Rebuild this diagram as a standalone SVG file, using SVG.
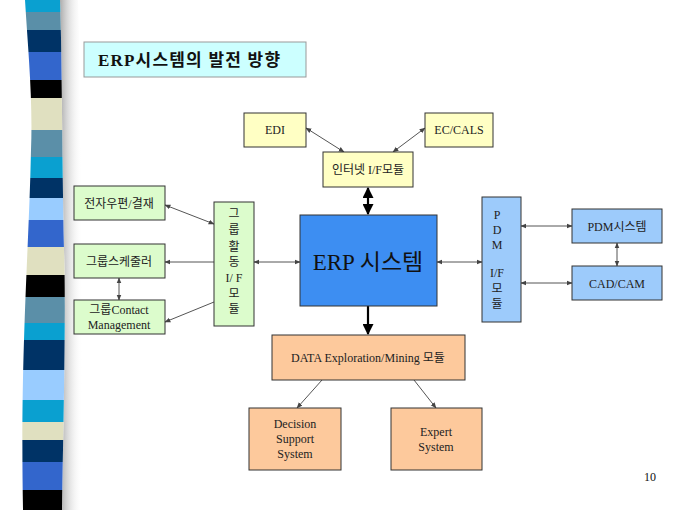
<svg xmlns="http://www.w3.org/2000/svg" width="680" height="510" viewBox="0 0 680 510">
<defs>
<style>
.t{font-family:"Liberation Serif","Noto Sans CJK KR",serif;font-size:12px;fill:#222;text-anchor:middle}
.box{stroke:#333;stroke-width:1}
.y{fill:#ffffc4}
.g{fill:#dcfccc}
.b{fill:#9dcbfb}
.o{fill:#fdc99c}
.ln{stroke:#555;stroke-width:1;fill:none}
.thick{stroke:#000;stroke-width:2.2;fill:none}
</style>
<marker id="ah" viewBox="0 0 10 10" refX="9" refY="5" markerWidth="6" markerHeight="6" orient="auto-start-reverse" markerUnits="userSpaceOnUse">
<path d="M0,1 L10,5 L0,9 Z" fill="#444"/>
</marker>
<marker id="ahk" viewBox="0 0 10 10" refX="9" refY="5" markerWidth="5" markerHeight="5" orient="auto-start-reverse">
<path d="M0,0 L10,5 L0,10 Z" fill="#000"/>
</marker>
<clipPath id="band">
<path d="M25,0 C28,50 33,100 31,150 C29,250 20,350 23,510 L62,510 C64,400 66,300 64,250 C62,150 62,50 60,0 Z"/>
</clipPath>
<linearGradient id="sh" x1="0" y1="0" x2="1" y2="0">
<stop offset="0" stop-color="#888" stop-opacity="0.7"/>
<stop offset="1" stop-color="#fff" stop-opacity="0"/>
</linearGradient>
</defs>
<rect width="680" height="510" fill="#fff"/>
<g id="stripe-band">
<path d="M60,0 C62,50 62,150 64,250 C66,300 64,400 62,510 L80,510 C82,400 84,300 82,250 C80,150 80,50 78,0 Z" fill="url(#sh)"/>
<g clip-path="url(#band)">
<rect x="0" y="0" width="80" height="12" fill="#0aa0d0"/>
<rect x="0" y="12" width="80" height="18" fill="#5a8fa8"/>
<rect x="0" y="30" width="80" height="22" fill="#003366"/>
<rect x="0" y="52" width="80" height="28" fill="#3366cc"/>
<rect x="0" y="80" width="80" height="18" fill="#000"/>
<rect x="0" y="98" width="80" height="32" fill="#e0e0c0"/>
<rect x="0" y="130" width="80" height="27" fill="#5b8fa8"/>
<rect x="0" y="157" width="80" height="21" fill="#0aa0d0"/>
<rect x="0" y="178" width="80" height="20" fill="#003366"/>
<rect x="0" y="198" width="80" height="22" fill="#99ccff"/>
<rect x="0" y="220" width="80" height="27" fill="#3366cc"/>
<rect x="0" y="247" width="80" height="28" fill="#e0e0c0"/>
<rect x="0" y="275" width="80" height="22" fill="#000"/>
<rect x="0" y="297" width="80" height="26" fill="#5b8fa8"/>
<rect x="0" y="323" width="80" height="17" fill="#0aa0d0"/>
<rect x="0" y="340" width="80" height="30" fill="#003366"/>
<rect x="0" y="370" width="80" height="30" fill="#99ccff"/>
<rect x="0" y="400" width="80" height="22" fill="#0aa0d0"/>
<rect x="0" y="422" width="80" height="18" fill="#e0e0c0"/>
<rect x="0" y="440" width="80" height="22" fill="#003366"/>
<rect x="0" y="462" width="80" height="28" fill="#3366cc"/>
<rect x="0" y="490" width="80" height="20" fill="#000"/>
</g>
</g>
<g id="title">
<rect x="84" y="42" width="222" height="35" fill="#ccffff" stroke="#999" stroke-width="1"/>
<text x="98" y="66" style="font-family:'Liberation Serif','Noto Sans CJK KR',serif;font-size:17px;font-weight:bold;letter-spacing:1.2px;fill:#111">ERP시스템의 발전 방향</text>
</g>
<g id="connectors">
<line class="ln" x1="306" y1="128" x2="344" y2="152" marker-start="url(#ah)" marker-end="url(#ah)"/>
<line class="ln" x1="425" y1="128" x2="393" y2="152" marker-start="url(#ah)" marker-end="url(#ah)"/>
<line class="thick" x1="368" y1="188" x2="368" y2="214" marker-start="url(#ahk)" marker-end="url(#ahk)"/>
<line class="thick" x1="368" y1="306" x2="368" y2="334" marker-end="url(#ahk)"/>
<line class="ln" x1="322" y1="380" x2="297" y2="408" marker-end="url(#ah)"/>
<line class="ln" x1="414" y1="380" x2="436" y2="408" marker-end="url(#ah)"/>
<line class="ln" x1="165" y1="205" x2="214" y2="224" marker-start="url(#ah)" marker-end="url(#ah)"/>
<line class="ln" x1="214" y1="262" x2="165" y2="262" marker-end="url(#ah)"/>
<line class="ln" x1="119" y1="278" x2="119" y2="300" marker-start="url(#ah)" marker-end="url(#ah)"/>
<line class="ln" x1="214" y1="302" x2="165" y2="322" marker-end="url(#ah)"/>
<line class="ln" x1="254" y1="262" x2="300" y2="262" marker-start="url(#ah)" marker-end="url(#ah)"/>
<line class="ln" x1="437" y1="262" x2="482" y2="262" marker-start="url(#ah)" marker-end="url(#ah)"/>
<line class="ln" x1="521" y1="226" x2="572" y2="226" marker-start="url(#ah)" marker-end="url(#ah)"/>
<line class="ln" x1="521" y1="283" x2="572" y2="283" marker-start="url(#ah)" marker-end="url(#ah)"/>
<line class="ln" x1="617" y1="243" x2="617" y2="266" marker-start="url(#ah)" marker-end="url(#ah)"/>
</g>
<g id="edi"><rect class="box y" x="244" y="113" width="62" height="34"/><text class="t" x="275" y="134">EDI</text></g>
<g id="eccals"><rect class="box y" x="425" y="113" width="68" height="34"/><text class="t" x="459" y="134">EC/CALS</text></g>
<g id="internet"><rect class="box y" x="323" y="152" width="90" height="35"/><text class="t" x="368" y="174">인터넷 I/F모듈</text></g>
<g id="erp"><rect x="300" y="215" width="137" height="91" fill="#3d8ef2" stroke="#333"/><text x="368" y="270" style="font-family:'Liberation Serif','Noto Sans CJK KR',serif;font-size:23px;fill:#111;text-anchor:middle">ERP 시스템</text></g>
<g id="data"><rect class="box o" x="272" y="335" width="193" height="45"/><text class="t" x="368" y="362">DATA Exploration/Mining 모듈</text></g>
<g id="dss"><rect class="box o" x="249" y="408" width="92" height="62"/><text class="t" x="295" y="428">Decision</text><text class="t" x="295" y="443">Support</text><text class="t" x="295" y="458">System</text></g>
<g id="expert"><rect class="box o" x="391" y="408" width="91" height="62"/><text class="t" x="436" y="436">Expert</text><text class="t" x="436" y="451">System</text></g>
<g id="email"><rect class="box g" x="74" y="186" width="91" height="34"/><text class="t" x="119" y="208">전자우편/결재</text></g>
<g id="scheduler"><rect class="box g" x="74" y="244" width="91" height="34"/><text class="t" x="119" y="266">그룹스케줄러</text></g>
<g id="contact"><rect class="box g" x="74" y="300" width="91" height="34"/><text class="t" x="119" y="314">그룹Contact</text><text class="t" x="119" y="329">Management</text></g>
<g id="groupif"><rect class="box g" x="214" y="202" width="40" height="124"/>
<text class="t" x="234" y="218">그</text><text class="t" x="234" y="234">룹</text><text class="t" x="234" y="251">활</text><text class="t" x="234" y="266">동</text><text class="t" x="234" y="282">I/ F</text><text class="t" x="234" y="298">모</text><text class="t" x="234" y="313">듈</text></g>
<g id="pdmif"><rect class="box b" x="482" y="197" width="39" height="125"/>
<text class="t" x="497" y="219">P</text><text class="t" x="497" y="234">D</text><text class="t" x="497" y="249">M</text><text class="t" x="497" y="277">I/F</text><text class="t" x="497" y="293">모</text><text class="t" x="497" y="308">듈</text></g>
<g id="pdmsys"><rect class="box b" x="572" y="209" width="90" height="34"/><text class="t" x="617" y="231">PDM시스템</text></g>
<g id="cadcam"><rect class="box b" x="572" y="266" width="90" height="34"/><text class="t" x="617" y="288">CAD/CAM</text></g>
<text x="650" y="481" style="font-family:'Liberation Serif',serif;font-size:12px;fill:#111;text-anchor:middle">10</text>
</svg>
